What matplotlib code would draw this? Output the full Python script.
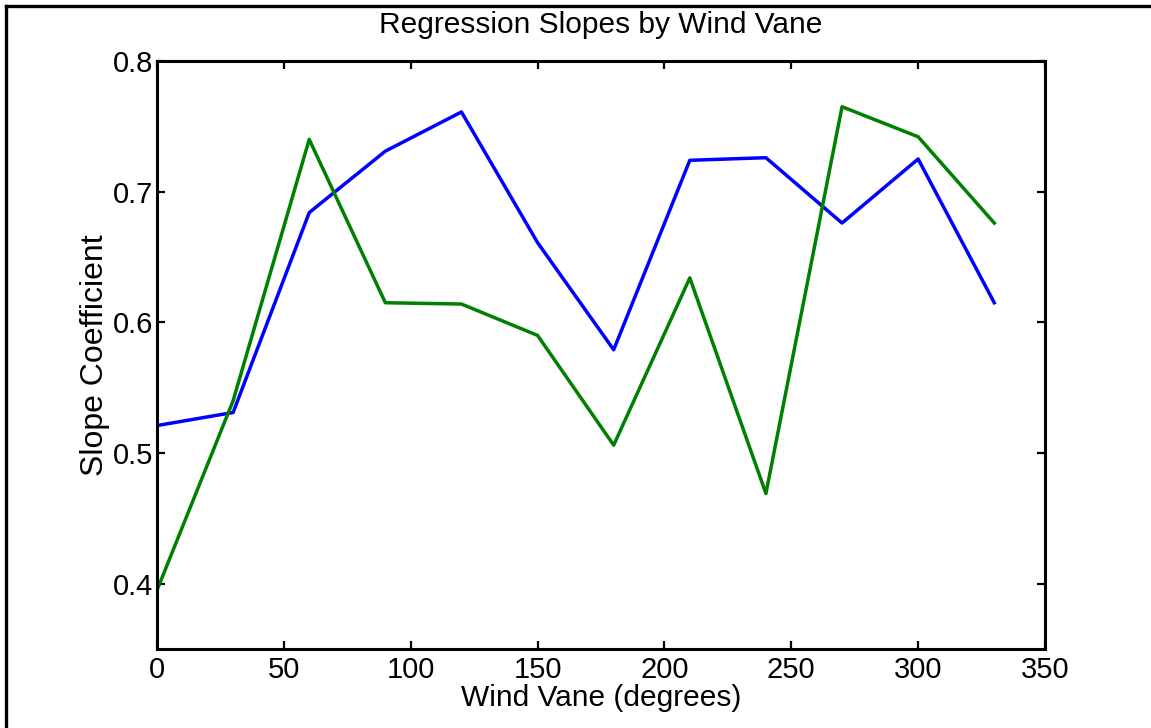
import numpy as np
import matplotlib.pyplot as plt
from matplotlib.lines import Line2D

plt.rcParams['font.family'] = ['Liberation Sans', 'DejaVu Sans']

# data
wind_vane = [0, 30, 60, 90, 120, 150, 180, 210, 240, 270, 300, 330]
slope_blue = [0.521, 0.531, 0.684, 0.731, 0.761, 0.661, 0.579, 0.724, 0.726, 0.676, 0.725, 0.615]
slope_green = [0.395, 0.540, 0.740, 0.615, 0.614, 0.590, 0.506, 0.634, 0.469, 0.765, 0.742, 0.676]
xticks = [0, 50, 100, 150, 200, 250, 300, 350]
yticks = [0.4, 0.5, 0.6, 0.7, 0.8]

fig = plt.figure(figsize=(11.51, 7.28), dpi=100)
ax = fig.add_axes([157/1151, 1 - 649/728, (1045 - 157)/1151, (649 - 61)/728])

ax.plot(wind_vane, slope_blue, color=(0, 0, 1), lw=2.5)
ax.plot(wind_vane, slope_green, color=(0, 0.5, 0), lw=2.5)

ax.set_xlim(0, 350)
ax.set_ylim(0.35, 0.8)
ax.set_xticks(xticks)
ax.set_yticks(yticks)
ax.set_yticklabels([f"{v:.1f}" for v in yticks])
ax.tick_params(direction='in', length=6, width=1.6, labelsize=21,
               top=True, right=True)
ax.tick_params(axis='x', pad=5)
ax.tick_params(axis='y', pad=3)
for s in ax.spines.values():
    s.set_linewidth(2.2)

ax.set_xlabel('Wind Vane (degrees)', fontsize=21.5, labelpad=0)
ax.set_ylabel('Slope Coefficient', fontsize=23, labelpad=2)
ax.set_title('Regression Slopes by Wind Vane', fontsize=21.5, pad=20)

# outer frame (only left and top edges are visible)
bx = 5.5 / 1151
by = 1 - 5.5 / 728
fig.add_artist(Line2D([bx, bx], [0, by], transform=fig.transFigure, color='black', lw=2.4))
fig.add_artist(Line2D([bx, 1], [by, by], transform=fig.transFigure, color='black', lw=2.4))

fig.savefig('out.png', dpi=100)
